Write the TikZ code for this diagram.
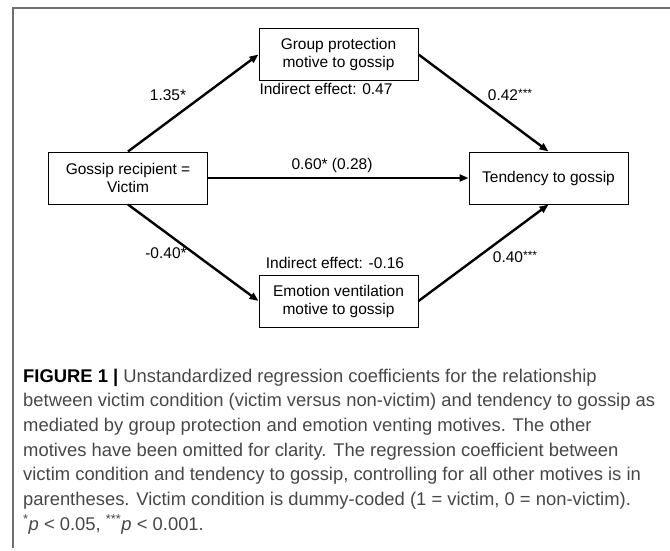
\documentclass[tikz,border=0pt]{standalone}
\usepackage{fontspec}
\setmainfont{Liberation Sans}
\usetikzlibrary{arrows.meta}
\definecolor{framegray}{HTML}{707070}
\definecolor{captiongray}{HTML}{474747}
\newcommand{\stars}[1]{\raisebox{2.6pt}{\fontsize{12}{12}\selectfont #1}}

\begin{document}
\begin{tikzpicture}[x=1pt, y=-1pt,
  every node/.style={font=\fontsize{15.5}{18}\selectfont},
  box/.style={draw, line width=1pt, minimum width=159pt, minimum height=52pt, align=center, inner sep=2pt},
  effect/.style={line width=2.4pt, -{Triangle[length=9pt,width=7pt]}},
  capline/.style={anchor=base west, inner sep=0pt, text=captiongray, font=\fontsize{18.4}{24}\selectfont}]
  \useasboundingbox (0,0) rectangle (670,550);

  % frame
  \draw[framegray, line width=1.2pt] (13,548) -- (13,8) -- (670,8);

  % variables
  \node[box] (recip) at (128,178) {Gossip recipient =\\Victim};
  \node[box] (group) at (338.5,54.5) {Group protection\\motive to gossip};
  \node[box] (emotion) at (338.5,301) {Emotion ventilation\\motive to gossip};
  \node[box] (tend) at (548.5,178) {Tendency to gossip};

  % paths
  \draw[effect] (recip.north) -- (group.west);
  \draw[effect] (group.east) -- (tend.north);
  \draw[effect] (recip.east) -- (tend.west);
  \draw[effect] (recip.south) -- (emotion.west);
  \draw[effect] (emotion.east) -- (tend.south);

  % coefficients
  \node (a1) at (168,95) {1.35*};
  \node (b1) at (510,95) {0.42\stars{***}};
  \node (c) at (332,165) {0.60* (0.28)};
  \node (a2) at (166,253) {-0.40*};
  \node (b2) at (515,257) {0.40\stars{***}};
  \node (ind1) at (326,89) {Indirect effect: 0.47};
  \node (ind2) at (335,263) {Indirect effect: -0.16};

  % caption
  \foreach \txt [count=\i from 0] in {
    {{\color{black}\bfseries FIGURE 1 |} Unstandardized regression coefficients for the relationship},
    {between victim condition (victim versus non-victim) and tendency to gossip as},
    {mediated by group protection and emotion venting motives. The other},
    {motives have been omitted for clarity. The regression coefficient between},
    {victim condition and tendency to gossip, controlling for all other motives is in},
    {parentheses. Victim condition is dummy-coded (1 = victim, 0 = non-victim).},
    {\textsuperscript{*}\textit{p} < 0.05, \textsuperscript{***}\textit{p} < 0.001.}}
    \node[capline] (cap\i) at (23,382+24.7*\i) {\txt};
\end{tikzpicture}
\end{document}
